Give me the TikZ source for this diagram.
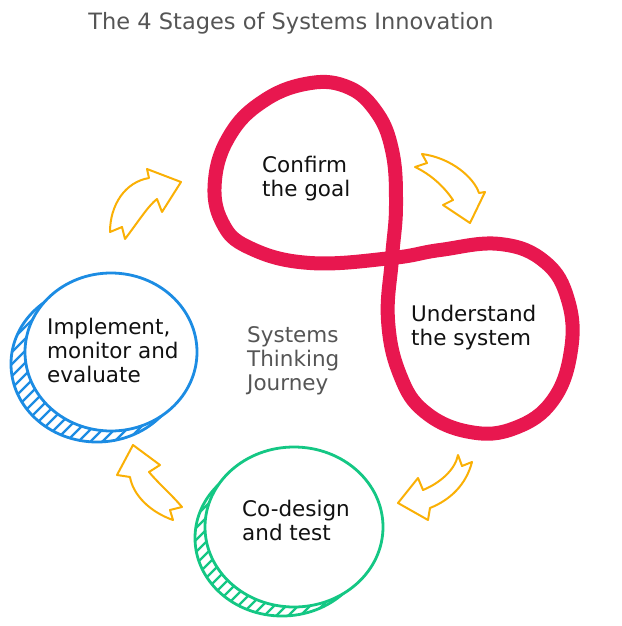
\documentclass[tikz,border=0pt]{standalone}
\usepackage{fontspec}
\setmainfont{DejaVu Sans}
\usepackage{xcolor}
\usepackage{tikz}
\definecolor{loopred}{HTML}{E8174F}
\definecolor{ringblue}{HTML}{1C8CE3}
\definecolor{ringgreen}{HTML}{14C784}
\definecolor{gold}{HTML}{FAB005}
\definecolor{ink}{HTML}{111111}
\definecolor{muted}{HTML}{555555}

\begin{document}
\begin{tikzpicture}[x=1pt,y=-1pt,
  font=\fontsize{21.5}{24}\selectfont,
  stage/.style={align=left,anchor=north west,inner sep=0pt,text=ink},
  note/.style={stage,text=muted},
  heading/.style={anchor=base,inner sep=0pt,text=muted,font=\fontsize{22.5}{26}\selectfont},
  loopline/.style={draw=loopred,line width=14pt,line join=round},
  ring/.style={line width=2.8pt},
  hatch/.style={line width=2.3pt},
  swoosh/.style={draw=gold,line width=2pt,line join=round,fill=white}]
  \useasboundingbox (0,0) rectangle (621,626);

  \node[heading] (title) at (291,30) {The 4 Stages of Systems Innovation};

  % figure-eight loop
  \draw[loopline] plot[smooth cycle,tension=0.7] coordinates {
    (392,258) (396,205) (392,150) (375,110) (345,86) (305,84) (262,102)
    (230,135) (215,180) (222,222) (250,248) (310,263)
    (392,258) (440,250) (500,244) (545,262) (568,300) (571,350)
    (553,400) (515,428) (470,432) (425,412) (400,375) (388,320)};

  % blue ring
  \begin{scope}
    \clip (97,364) ellipse [x radius=86,y radius=78];
    \foreach \k in {-180,-168,...,180}
      \draw[hatch,ringblue] (\k,460) -- ++(200,-200);
  \end{scope}
  \draw[ring,ringblue] (97,364) ellipse [x radius=86,y radius=78];
  \draw[ring,ringblue,fill=white] (111,352) ellipse [x radius=86,y radius=79];

  % green ring
  \begin{scope}
    \clip (282,538) ellipse [x radius=87,y radius=78];
    \foreach \k in {0,12,...,360}
      \draw[hatch,ringgreen] (\k,640) -- ++(200,-200);
  \end{scope}
  \draw[ring,ringgreen] (282,538) ellipse [x radius=87,y radius=78];
  \draw[ring,ringgreen,fill=white] (294,527) ellipse [x radius=89,y radius=80];

  % yellow arrows
  \draw[swoosh] (110,232) -- (122,227) -- (125,239)
    .. controls (138,222) and (148,206) .. (157,199) -- (162,212) -- (181,182)
    -- (147,169) -- (149,178) .. controls (125,182) and (110,205) .. (110,232) -- cycle;
  \draw[swoosh] (422,154) -- (427,163) -- (415,167)
    .. controls (432,175) and (445,188) .. (453,200) -- (443,205) -- (470,223)
    -- (485,192) -- (479,193) .. controls (474,178) and (452,158) .. (422,154) -- cycle;
  \draw[swoosh] (458,455) -- (462,466) -- (472,462)
    .. controls (466,485) and (450,500) .. (430,508) -- (428,520) -- (398,503)
    -- (418,478) -- (423,490) .. controls (440,483) and (455,470) .. (458,455) -- cycle;
  \draw[swoosh] (133,445) -- (160,465) -- (149,472)
    .. controls (160,485) and (172,495) .. (182,507) -- (170,510) -- (173,520)
    .. controls (150,512) and (133,495) .. (130,477) -- (117,475) -- cycle;

  \node[stage] (goal) at (262,155.5) {Confirm\\the goal};
  \node[stage] (system) at (411,304.5) {Understand\\the system};
  \node[stage] (review) at (47,317.5) {Implement,\\monitor and\\evaluate};
  \node[stage] (codesign) at (242,499.5) {Co-design\\and test};
  \node[note] (journey) at (247,326.5) {Systems\\Thinking\\Journey};
\end{tikzpicture}
\end{document}
